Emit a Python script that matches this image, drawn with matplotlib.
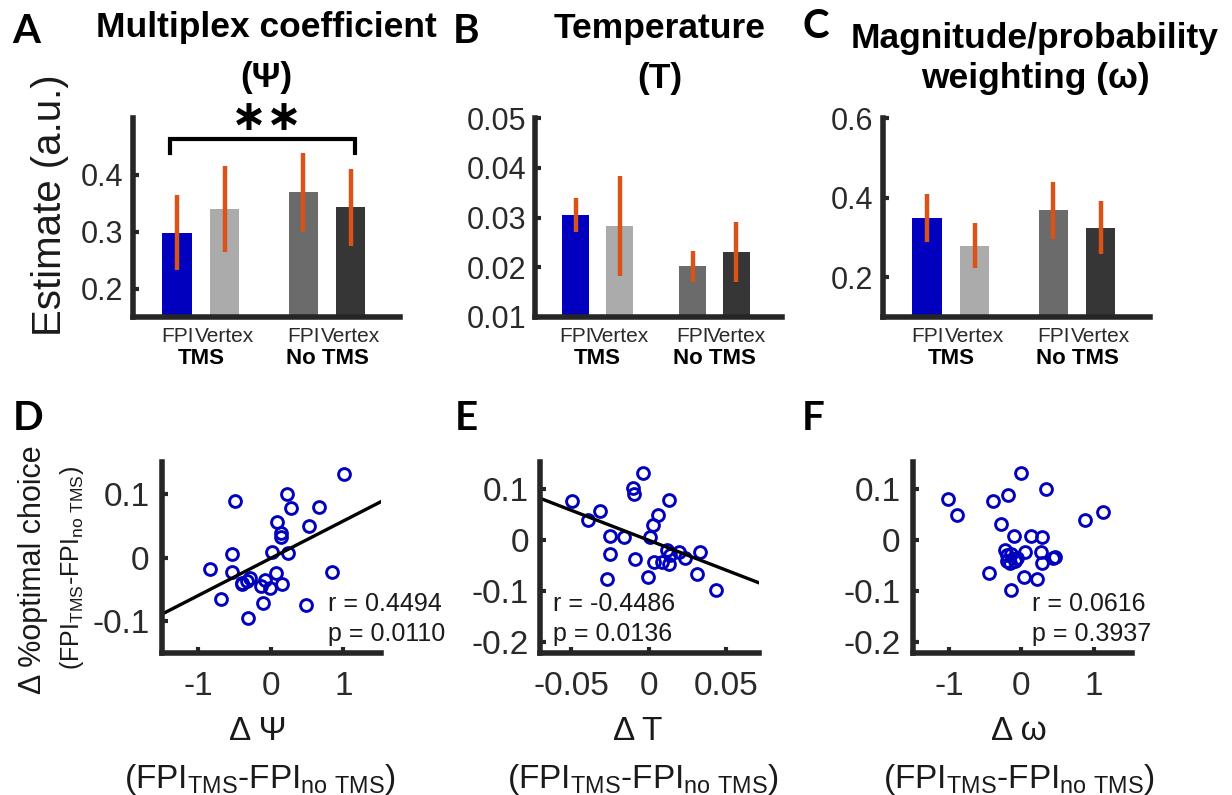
import matplotlib
matplotlib.use('Agg')
import matplotlib.pyplot as plt
import numpy as np
from matplotlib.transforms import blended_transform_factory

plt.rcParams['font.family'] = ['Liberation Sans', 'DejaVu Sans']
plt.rcParams['mathtext.default'] = 'regular'
plt.rcParams['axes.unicode_minus'] = False

# ---------------- data ----------------
conditions = ['FPI', 'Vertex', 'FPI', 'Vertex']
groups = ['TMS', 'No TMS']

psi_mean = [0.298, 0.340, 0.370, 0.344]
psi_lo = [0.232, 0.265, 0.300, 0.275]
psi_hi = [0.365, 0.416, 0.439, 0.411]

temp_mean = [0.0305, 0.0283, 0.0202, 0.0230]
temp_lo = [0.0270, 0.0183, 0.0170, 0.0170]
temp_hi = [0.0340, 0.0384, 0.0233, 0.0291]

omega_mean = [0.349, 0.278, 0.368, 0.323]
omega_lo = [0.288, 0.224, 0.297, 0.258]
omega_hi = [0.410, 0.336, 0.439, 0.391]

# panel D
d_psi = [1.016, -0.50, 0.22, 0.28, 0.67, 0.083, 0.53, 0.138, 0.143, 0.014,
         0.244, -0.538, -0.832, -0.538, 0.841, 0.069, -0.285, -0.331, -0.391,
         -0.078, 0.152, -0.133, -0.009, -0.40, -0.685, -0.110, 0.483, -0.308]
d_opt_D = [0.1305, 0.088, 0.099, 0.078, 0.080, 0.055, 0.049, 0.039, 0.032, 0.008,
           0.007, 0.005, -0.018, -0.022, -0.022, -0.025, -0.032, -0.037, -0.042,
           -0.035, -0.041, -0.045, -0.048, -0.040, -0.065, -0.071, -0.075, -0.095]
fit_D = (0.0585, -0.0012)
stats_D = ('r = 0.4494', 'p = 0.0110')

# panel E
d_T = [-0.0039, -0.0103, -0.0092, 0.0133, -0.0495, -0.0312, -0.0391, 0.0058,
       0.0028, -0.0247, -0.0157, 0.0011, 0.0118, 0.0194, 0.0333, -0.0247,
       0.0232, -0.0090, 0.0032, 0.0086, 0.0133, 0.0140, 0.0308, -0.0004,
       -0.0269, 0.0430]
d_opt_E = [0.131, 0.101, 0.0895, 0.078, 0.0765, 0.057, 0.039, 0.049,
           0.029, 0.008, 0.0065, 0.0065, -0.0196, -0.0229, -0.0242, -0.028,
           -0.0346, -0.038, -0.0438, -0.0425, -0.0477, -0.030, -0.0667, -0.0732,
           -0.0765, -0.098]
fit_E = (-1.178, -0.0006)
stats_E = ('r = -0.4486', 'p = 0.0136')

# panel F
d_omega = [0.0, 0.335, -1.018, -0.39, -0.183, -0.885, 1.124, 0.881, -0.289,
           -0.106, 0.138, 0.289, -0.229, 0.046, 0.266, 0.459, 0.436, -0.138,
           -0.206, -0.092, -0.16, 0.284, -0.445, 0.032, 0.22, -0.147, -0.20, -0.06]
d_opt_F = [0.131, 0.100, 0.080, 0.077, 0.088, 0.049, 0.054, 0.039, 0.031,
           0.0085, 0.0078, 0.005, -0.0196, -0.023, -0.024, -0.033, -0.036, -0.028,
           -0.041, -0.042, -0.046, -0.046, -0.065, -0.073, -0.076, -0.098, -0.030, -0.035]
stats_F = ('r = 0.0616', 'p = 0.3937')

# ---------------- style ----------------
W, H = 1232, 795
fig = plt.figure(figsize=(W / 100, H / 100), dpi=100)
fig.patch.set_facecolor('white')

bar_colors = ['#0000BE', '#ABABAB', '#6B6B6B', '#363636']
err_color = '#D95319'
axis_color = '#262626'
tick_color = '#2a2a2a'
positions = [1, 2, 3.66, 4.66]


def fx(x):
    return x / W


def fy(y):
    return 1 - y / H


def make_axes(l, t, r, b):
    ax = fig.add_axes([l / W, 1 - b / H, (r - l) / W, (b - t) / H])
    for s in ['top', 'right']:
        ax.spines[s].set_visible(False)
    for s in ['left', 'bottom']:
        ax.spines[s].set_linewidth(4)
        ax.spines[s].set_color(axis_color)
        ax.spines[s].set_capstyle('projecting')
        ax.spines[s].set_zorder(5)
    ax.set_facecolor('none')
    return ax


def bar_panel(ax, mean, lo, hi, ylim, yticks, yticklabels, pad):
    ax.bar(positions, mean, width=0.62, color=bar_colors, zorder=2)
    yerr = [np.array(mean) - np.array(lo), np.array(hi) - np.array(mean)]
    ax.errorbar(positions, mean, yerr=yerr, fmt='none', ecolor=err_color,
                elinewidth=3.2, capsize=0, zorder=3)
    ax.set_xlim(0.07, 5.7)
    ax.set_ylim(*ylim)
    ax.set_yticks(yticks)
    ax.set_yticklabels(yticklabels)
    ax.tick_params(axis='y', direction='in', length=4, width=3, color=axis_color,
                   labelsize=22, labelcolor=tick_color, pad=pad)
    ax.set_xticks([])
    tr = blended_transform_factory(ax.transData, ax.transAxes)
    for p, lab in zip(positions, conditions):
        ax.text(p, -0.10, lab, transform=tr, ha='center', va='center',
                fontsize=15, color=tick_color)
    for k, g in enumerate(groups):
        xc = (positions[2 * k] + positions[2 * k + 1]) / 2
        ax.text(xc, -0.21, g, transform=tr, ha='center', va='center',
                fontsize=16, fontweight='bold', color='black')


# ---- A ----
axA = make_axes(133, 118, 400, 317)
bar_panel(axA, psi_mean, psi_lo, psi_hi, (0.15, 0.5), [0.2, 0.3, 0.4],
          ['0.2', '0.3', '0.4'], 7)
axA.plot([0.86, 0.86, 4.76, 4.76], [0.439, 0.463, 0.463, 0.439], color='black',
         lw=3, clip_on=False, solid_joinstyle='miter', zorder=6)
fig.text(fx(267), fy(130), '\u2217\u2217', ha='center', va='baseline',
         fontsize=31, fontweight='bold', family=['DejaVu Sans'])

# ---- B ----
axB = make_axes(535, 118, 782, 317)
bar_panel(axB, temp_mean, temp_lo, temp_hi, (0.01, 0.05),
          [0.01, 0.02, 0.03, 0.04, 0.05],
          ['0.01', '0.02', '0.03', '0.04', '0.05'], 6)

# ---- C ----
axC = make_axes(883, 118, 1150, 317)
bar_panel(axC, omega_mean, omega_lo, omega_hi, (0.1, 0.6), [0.2, 0.4, 0.6],
          ['0.2', '0.4', '0.6'], 7)


# ---- scatter panels ----
def scatter_panel(ax, x, y, xlim, ylim, xticks, xticklabels, yticks, yticklabels,
                  fit, stats, stats_left, ypad):
    ax.plot(x, y, 'o', mfc='none', mec='#0000BE', mew=2.1, ms=8.5, zorder=3,
            clip_on=False)
    if fit is not None:
        xs = np.array(xlim)
        ax.plot(xs, fit[0] * xs + fit[1], color='black', lw=2.4, zorder=4)
    ax.set_xlim(*xlim)
    ax.set_ylim(*ylim)
    ax.set_xticks(xticks)
    ax.set_xticklabels(xticklabels)
    ax.set_yticks(yticks)
    ax.set_yticklabels(yticklabels)
    ax.tick_params(axis='both', direction='in', length=4, width=3,
                   color=axis_color, labelsize=24, labelcolor=tick_color)
    ax.tick_params(axis='x', pad=13)
    ax.tick_params(axis='y', pad=ypad)
    fig.text(fx(stats_left), fy(611), stats[0], fontsize=18, color='#1a1a1a',
             ha='left', va='baseline')
    fig.text(fx(stats_left), fy(641), stats[1], fontsize=18, color='#1a1a1a',
             ha='left', va='baseline')


axD = make_axes(162, 462, 381, 653)
scatter_panel(axD, d_psi, d_opt_D, (-1.5, 1.52), (-0.15, 0.15), [-1, 0, 1],
              ['-1', '0', '1'], [-0.1, 0, 0.1], ['-0.1', '0', '0.1'],
              fit_D, stats_D, 328, 9)

axE = make_axes(540, 462, 759, 653)
scatter_panel(axE, d_T, d_opt_E, (-0.07, 0.071), (-0.222, 0.153),
              [-0.05, 0, 0.05], ['-0.05', '0', '0.05'],
              [-0.2, -0.1, 0, 0.1], ['-0.2', '-0.1', '0', '0.1'],
              fit_E, stats_E, 553, 8)

axF = make_axes(913, 462, 1132, 653)
scatter_panel(axF, d_omega, d_opt_F, (-1.5, 1.53), (-0.222, 0.153),
              [-1, 0, 1], ['-1', '0', '1'],
              [-0.2, -0.1, 0, 0.1], ['-0.2', '-0.1', '0', '0.1'],
              None, stats_F, 1032, 9)

# ---------------- titles and labels ----------------
letter_font = ['Lato', 'DejaVu Sans']
for lab, x, y in [('A', 12, 43), ('B', 453, 43), ('C', 802, 38),
                  ('D', 13, 430), ('E', 455, 430), ('F', 802, 430)]:
    fig.text(fx(x), fy(y), lab, fontsize=29, fontweight='bold',
             family=letter_font, ha='left', va='baseline')

titles = [('Multiplex coefficient', '(\u03a8)', 266, 37, 87),
          ('Temperature', '(T)', 660, 38, 88),
          ('Magnitude/probability', 'weighting (\u03c9)', 1035, 48, 88)]
for l1, l2, xc, b1, b2 in titles:
    fig.text(fx(xc), fy(b1), l1, fontsize=25.5, fontweight='bold', ha='center',
             va='baseline')
    fig.text(fx(xc), fy(b2), l2, fontsize=25.5, fontweight='bold', ha='center',
             va='baseline')

fig.text(fx(50), fy(205), 'Estimate (a.u.)', fontsize=29, rotation=90,
         ha='center', va='center', color='#1a1a1a')
fig.text(fx(33), fy(570), '\u0394 %optimal choice', fontsize=22, rotation=90,
         ha='center', va='center', color='#1a1a1a')
fig.text(fx(72), fy(568), r'(FPI$_{TMS}$-FPI$_{no\ TMS}$)', fontsize=18,
         rotation=90, ha='center', va='center', color='#1a1a1a')

sub_label = r'(FPI$_{TMS}$-FPI$_{no\ TMS}$)'
for sym, xc1, xc2 in [('\u0394 \u03a8', 258, 260), ('\u0394 T', 638, 643),
                      ('\u0394 \u03c9', 1019, 1019)]:
    fig.text(fx(xc1), fy(740), sym, fontsize=24, ha='center', va='baseline',
             color='#1a1a1a')
    fig.text(fx(xc2), fy(788), sub_label, fontsize=24, ha='center',
             va='baseline', color='#1a1a1a')

fig.savefig('out.png', dpi=100, facecolor='white')
